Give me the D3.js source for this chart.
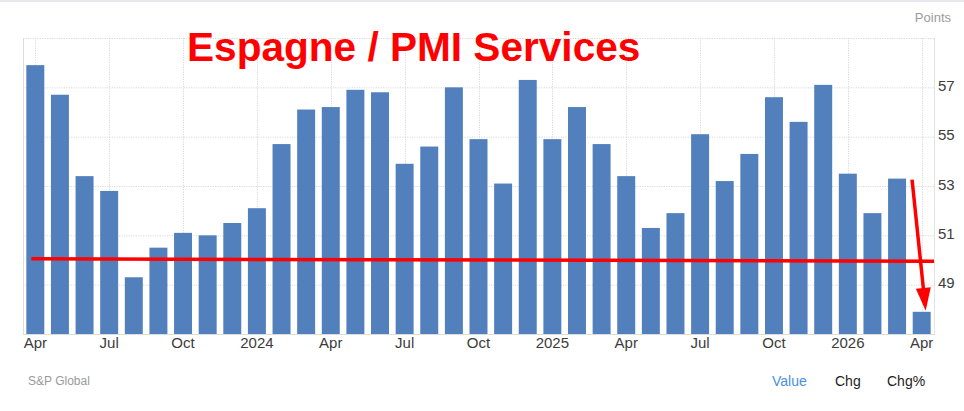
<!DOCTYPE html>
<html>
<head>
<meta charset="utf-8">
<script src="https://cdn.jsdelivr.net/npm/d3@7"></script>
<style>
  body { margin: 0; background: #fff; }
  svg { display: block; font-family: "Liberation Sans", Arial, sans-serif; }
</style>
</head>
<body>
<div id="chart"></div>
<script>
// Espagne PMI services, monthly bars

const FRAME_WIDTH = 964;
const FRAME_HEIGHT = 411;
const PLOT = {left: 23, right: 934, top: 38, bottom: 334};

// data
const months = ["2023-04","2023-05","2023-06","2023-07","2023-08","2023-09","2023-10","2023-11","2023-12",
                "2024-01","2024-02","2024-03","2024-04","2024-05","2024-06","2024-07","2024-08","2024-09",
                "2024-10","2024-11","2024-12","2025-01","2025-02","2025-03","2025-04","2025-05","2025-06",
                "2025-07","2025-08","2025-09","2025-10","2025-11","2025-12","2026-01","2026-02","2026-03",
                "2026-04"];
const pmi = [57.9, 56.7, 53.4, 52.8, 49.3, 50.5, 51.1, 51.0, 51.5,
             52.1, 54.7, 56.1, 56.2, 56.9, 56.8, 53.9, 54.6, 57.0,
             54.9, 53.1, 57.3, 54.9, 56.2, 54.7, 53.4, 51.3, 51.9,
             55.1, 53.2, 54.3, 56.6, 55.6, 57.1, 53.5, 51.9, 53.3,
             47.9];
const xTickMonths = ["2023-04","2023-07","2023-10","2024-01","2024-04","2024-07","2024-10",
                     "2025-01","2025-04","2025-07","2025-10","2026-01","2026-04"];
const xTickLabels = ["Apr","Jul","Oct","2024","Apr","Jul","Oct","2025","Apr","Jul","Oct","2026","Apr"];
const yTicks = [49, 51, 53, 55, 57];
const yDomain = [47, 59];
const refLevel = [50.05, 49.95]; // hand drawn red line, slightly sloped

const svg = d3.select("#chart")
              .append("svg")
              .attr("width", FRAME_WIDTH)
              .attr("height", FRAME_HEIGHT);

// scales
const X_SCALE = d3.scaleBand()
                  .domain(months)
                  .range([PLOT.left, PLOT.right])
                  .paddingInner(0.27)
                  .paddingOuter(0.135);
const Y_SCALE = d3.scaleLinear()
                  .domain(yDomain)
                  .range([PLOT.bottom, PLOT.top]);
const xc = (m) => X_SCALE(m) + X_SCALE.bandwidth() / 2;

// top border of the widget
svg.append("rect")
   .attr("x", 0).attr("y", 0)
   .attr("width", FRAME_WIDTH).attr("height", 2)
   .attr("fill", "#e8e8ec");

// grid
const grid = svg.append("g");
grid.selectAll("hgrid")
    .data(yTicks.concat([yDomain[1]]))
    .enter()
    .append("line")
      .attr("x1", PLOT.left).attr("x2", PLOT.right)
      .attr("y1", (d) => Y_SCALE(d) + 0.5)
      .attr("y2", (d) => Y_SCALE(d) + 0.5)
      .attr("stroke", "#d9d9d9")
      .attr("stroke-dasharray", "1.2,1.2");
grid.selectAll("vgrid")
    .data(xTickMonths)
    .enter()
    .append("line")
      .attr("x1", (d) => Math.round(xc(d)) + 0.5)
      .attr("x2", (d) => Math.round(xc(d)) + 0.5)
      .attr("y1", PLOT.top).attr("y2", PLOT.bottom)
      .attr("stroke", "#d9d9d9")
      .attr("stroke-dasharray", "1.2,1.2");

// bars
svg.selectAll("bars")
   .data(pmi)
   .enter()
   .append("rect")
     .attr("x", (d, i) => X_SCALE(months[i]))
     .attr("y", (d) => Y_SCALE(d))
     .attr("width", X_SCALE.bandwidth())
     .attr("height", (d) => Y_SCALE(yDomain[0]) - Y_SCALE(d))
     .attr("fill", "#5280bc");

// frame lines
svg.append("line")
   .attr("x1", PLOT.left + 0.5).attr("x2", PLOT.left + 0.5)
   .attr("y1", PLOT.top).attr("y2", PLOT.bottom)
   .attr("stroke", "#dcdcdc");
svg.append("line")
   .attr("x1", PLOT.right + 0.5).attr("x2", PLOT.right + 0.5)
   .attr("y1", PLOT.top).attr("y2", PLOT.bottom)
   .attr("stroke", "#e2e2e2");
svg.append("line")
   .attr("x1", PLOT.left).attr("x2", PLOT.right + 1)
   .attr("y1", PLOT.bottom + 0.5).attr("y2", PLOT.bottom + 0.5)
   .attr("stroke", "#dcdcdc");

// x axis labels
const xAxis = svg.append("g")
   .attr("transform", "translate(0," + PLOT.bottom + ")")
   .call(d3.axisBottom(X_SCALE)
           .tickValues(xTickMonths)
           .tickFormat((d) => xTickLabels[xTickMonths.indexOf(d)])
           .tickSize(0)
           .tickPadding(3.5));
xAxis.select(".domain").remove();
xAxis.selectAll("text")
     .attr("font-size", "15px")
     .attr("font-family", "Liberation Sans, Arial, sans-serif")
     .attr("fill", "#3c3c3c");

// y axis labels (right side)
const yAxis = svg.append("g")
   .attr("transform", "translate(" + (PLOT.right + 4) + ",0)")
   .call(d3.axisRight(Y_SCALE)
           .tickValues(yTicks)
           .tickSize(0)
           .tickPadding(0));
yAxis.select(".domain").remove();
yAxis.selectAll("text")
     .attr("dy", "0.2em")
     .attr("font-size", "15px")
     .attr("font-family", "Liberation Sans, Arial, sans-serif")
     .attr("fill", "#3c3c3c");

svg.append("text")
   .attr("x", 951).attr("y", 22)
   .attr("text-anchor", "end")
   .attr("font-size", "13px")
   .attr("fill", "#9a9a9a")
   .text("Points");

// title annotation
svg.append("text")
   .attr("x", 187).attr("y", 61)
   .attr("font-size", "40.6px")
   .attr("font-weight", "bold")
   .attr("fill", "#ff0000")
   .text("Espagne / PMI Services");

// red 50 line
svg.append("line")
   .attr("x1", X_SCALE(months[0]) + 5)
   .attr("x2", PLOT.right)
   .attr("y1", Y_SCALE(refLevel[0]))
   .attr("y2", Y_SCALE(refLevel[1]))
   .attr("stroke", "#ff0000")
   .attr("stroke-width", 3.5);

// arrow to the last bar
const last = months.length - 1;
const ax0 = X_SCALE(months[last - 1]) + X_SCALE.bandwidth() + 6;
const ay0 = Y_SCALE(pmi[last - 1]) + 1;
const ax1 = xc(months[last]) + 4;
const ay1 = Y_SCALE(pmi[last]) - 1;
const len = Math.hypot(ax1 - ax0, ay1 - ay0);
const ux = (ax1 - ax0) / len, uy = (ay1 - ay0) / len;
const headL = 23, headW = 7.5;
const bx = ax1 - ux * headL, by = ay1 - uy * headL;
svg.append("line")
   .attr("x1", ax0).attr("y1", ay0)
   .attr("x2", bx + ux * 2).attr("y2", by + uy * 2)
   .attr("stroke", "#ff0000")
   .attr("stroke-width", 3.5);
svg.append("path")
   .attr("d", "M" + ax1 + "," + ay1 +
              "L" + (bx - uy * headW) + "," + (by + ux * headW) +
              "L" + (bx + uy * headW) + "," + (by - ux * headW) + "Z")
   .attr("fill", "#ff0000");

// footer
svg.append("text")
   .attr("x", 28).attr("y", 385)
   .attr("font-size", "12px")
   .attr("fill", "#9a9a9a")
   .text("S&P Global");

const footerTabs = ["Value", "Chg", "Chg%"];
const footerX = [772, 835, 887];
svg.selectAll("tabs")
   .data(footerTabs)
   .enter()
   .append("text")
     .attr("x", (d, i) => footerX[i])
     .attr("y", 386)
     .attr("font-size", "14px")
     .attr("fill", (d, i) => i === 0 ? "#4a90e2" : "#222")
     .text((d) => d);
</script>
</body>
</html>
